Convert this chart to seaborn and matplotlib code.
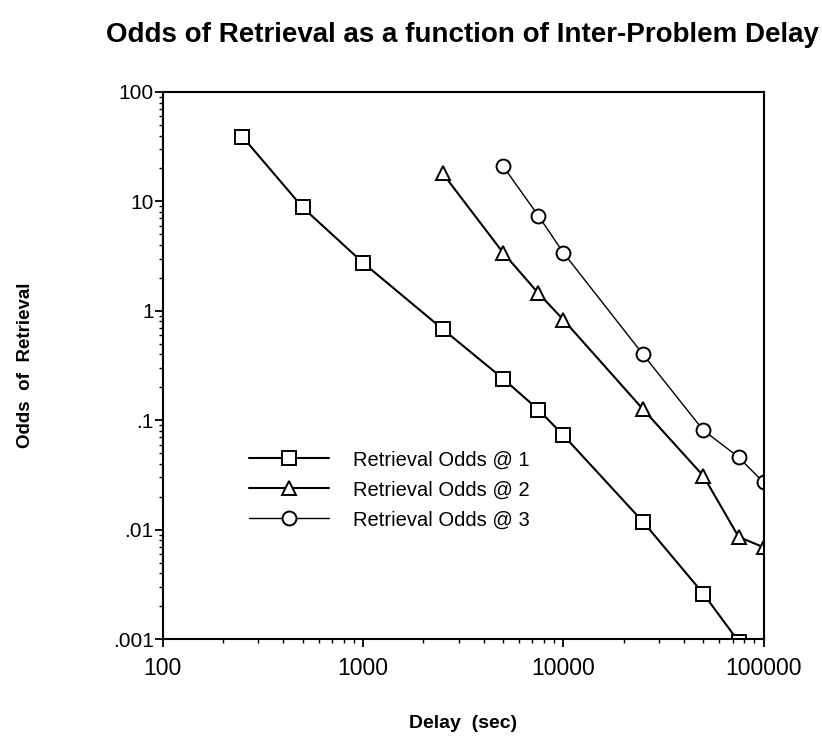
import pandas as pd
import matplotlib
matplotlib.use("Agg")
import matplotlib.pyplot as plt
import matplotlib.ticker as mticker
import seaborn as sns

# delay in seconds and odds of retrieval
delay_1 = [250, 500, 1000, 2500, 5000, 7500, 10000, 25000, 50000, 75000]
odds_1 = [39.0, 8.8, 2.75, 0.68, 0.24, 0.125, 0.073, 0.0118, 0.0026, 0.00095]

delay_2 = [2500, 5000, 7500, 10000, 25000, 50000, 75000, 100000]
odds_2 = [18.0, 3.4, 1.45, 0.83, 0.126, 0.031, 0.0086, 0.0069]

delay_3 = [5000, 7500, 10000, 25000, 50000, 75000, 100000]
odds_3 = [21.0, 7.4, 3.4, 0.40, 0.081, 0.046, 0.027]

labels = ["Retrieval Odds @ 1", "Retrieval Odds @ 2", "Retrieval Odds @ 3"]
y_ticks = [0.001, 0.01, 0.1, 1, 10, 100]
y_ticklabels = [".001", ".01", ".1", "1", "10", "100"]
x_ticks = [100, 1000, 10000, 100000]
x_ticklabels = ["100", "1000", "10000", "100000"]

frames = []
for lab, xs, ys in zip(labels, [delay_1, delay_2, delay_3], [odds_1, odds_2, odds_3]):
    frames.append(pd.DataFrame({"delay": xs, "odds": ys, "series": lab}))
df = pd.concat(frames, ignore_index=True)

sns.set_theme(style="ticks")
plt.rcParams["font.family"] = ["Liberation Sans", "DejaVu Sans"]
for key in ["text.color", "axes.labelcolor", "xtick.color", "ytick.color",
            "axes.edgecolor"]:
    plt.rcParams[key] = "black"

fig = plt.figure(figsize=(8.22, 7.51), dpi=100)
ax = fig.add_axes([0.198, 0.149, 0.731, 0.7285])

markers = {labels[0]: "s", labels[1]: "^", labels[2]: "o"}
widths = {labels[0]: 1.5, labels[1]: 1.5, labels[2]: 1.0}
for lab in labels:
    sub = df[df["series"] == lab]
    sns.lineplot(data=sub, x="delay", y="odds", ax=ax, color="black",
                 marker=markers[lab], markersize=10, markerfacecolor="white",
                 markeredgecolor="black", markeredgewidth=1.4,
                 linewidth=widths[lab], label=lab, sort=False)

ax.set_xscale("log")
ax.set_yscale("log")
ax.set_xlim(100, 100000)
ax.set_ylim(0.001, 100)

ax.xaxis.set_major_locator(mticker.FixedLocator(x_ticks))
ax.xaxis.set_major_formatter(mticker.FixedFormatter(x_ticklabels))
ax.yaxis.set_major_locator(mticker.FixedLocator(y_ticks))
ax.yaxis.set_major_formatter(mticker.FixedFormatter(y_ticklabels))
ax.xaxis.set_minor_formatter(mticker.NullFormatter())
ax.yaxis.set_minor_formatter(mticker.NullFormatter())

ax.tick_params(axis="both", which="major", direction="out", length=6,
               width=1.3, color="black")
ax.tick_params(axis="both", which="minor", direction="out", length=3,
               width=1.0, color="black")
ax.tick_params(axis="x", labelsize=16.5, pad=7)
ax.tick_params(axis="y", labelsize=15, pad=0.5)
ax.tick_params(top=False, right=False, which="both")

for side in ["left", "bottom", "top", "right"]:
    ax.spines[side].set_visible(True)
    ax.spines[side].set_color("black")
    ax.spines[side].set_linewidth(1.5)

ax.set_xlabel("Delay  (sec)", fontsize=14, fontweight="bold")
ax.xaxis.set_label_coords(0.5, -0.138)
ax.set_ylabel("Odds  of  Retrieval", fontsize=13.5, fontweight="bold")
ax.yaxis.set_label_coords(-0.214, 0.5)

fig.text(0.562, 0.953, "Odds of Retrieval as a function of Inter-Problem Delay",
         ha="center", va="center", fontsize=20, fontweight="bold")

ax.legend(loc="upper left", bbox_to_anchor=(0.143, 0.345), frameon=False,
          fontsize=14.5, handlelength=4, handletextpad=1.2, labelspacing=0.55,
          borderpad=0, borderaxespad=0)

fig.savefig("out.png", dpi=100)
